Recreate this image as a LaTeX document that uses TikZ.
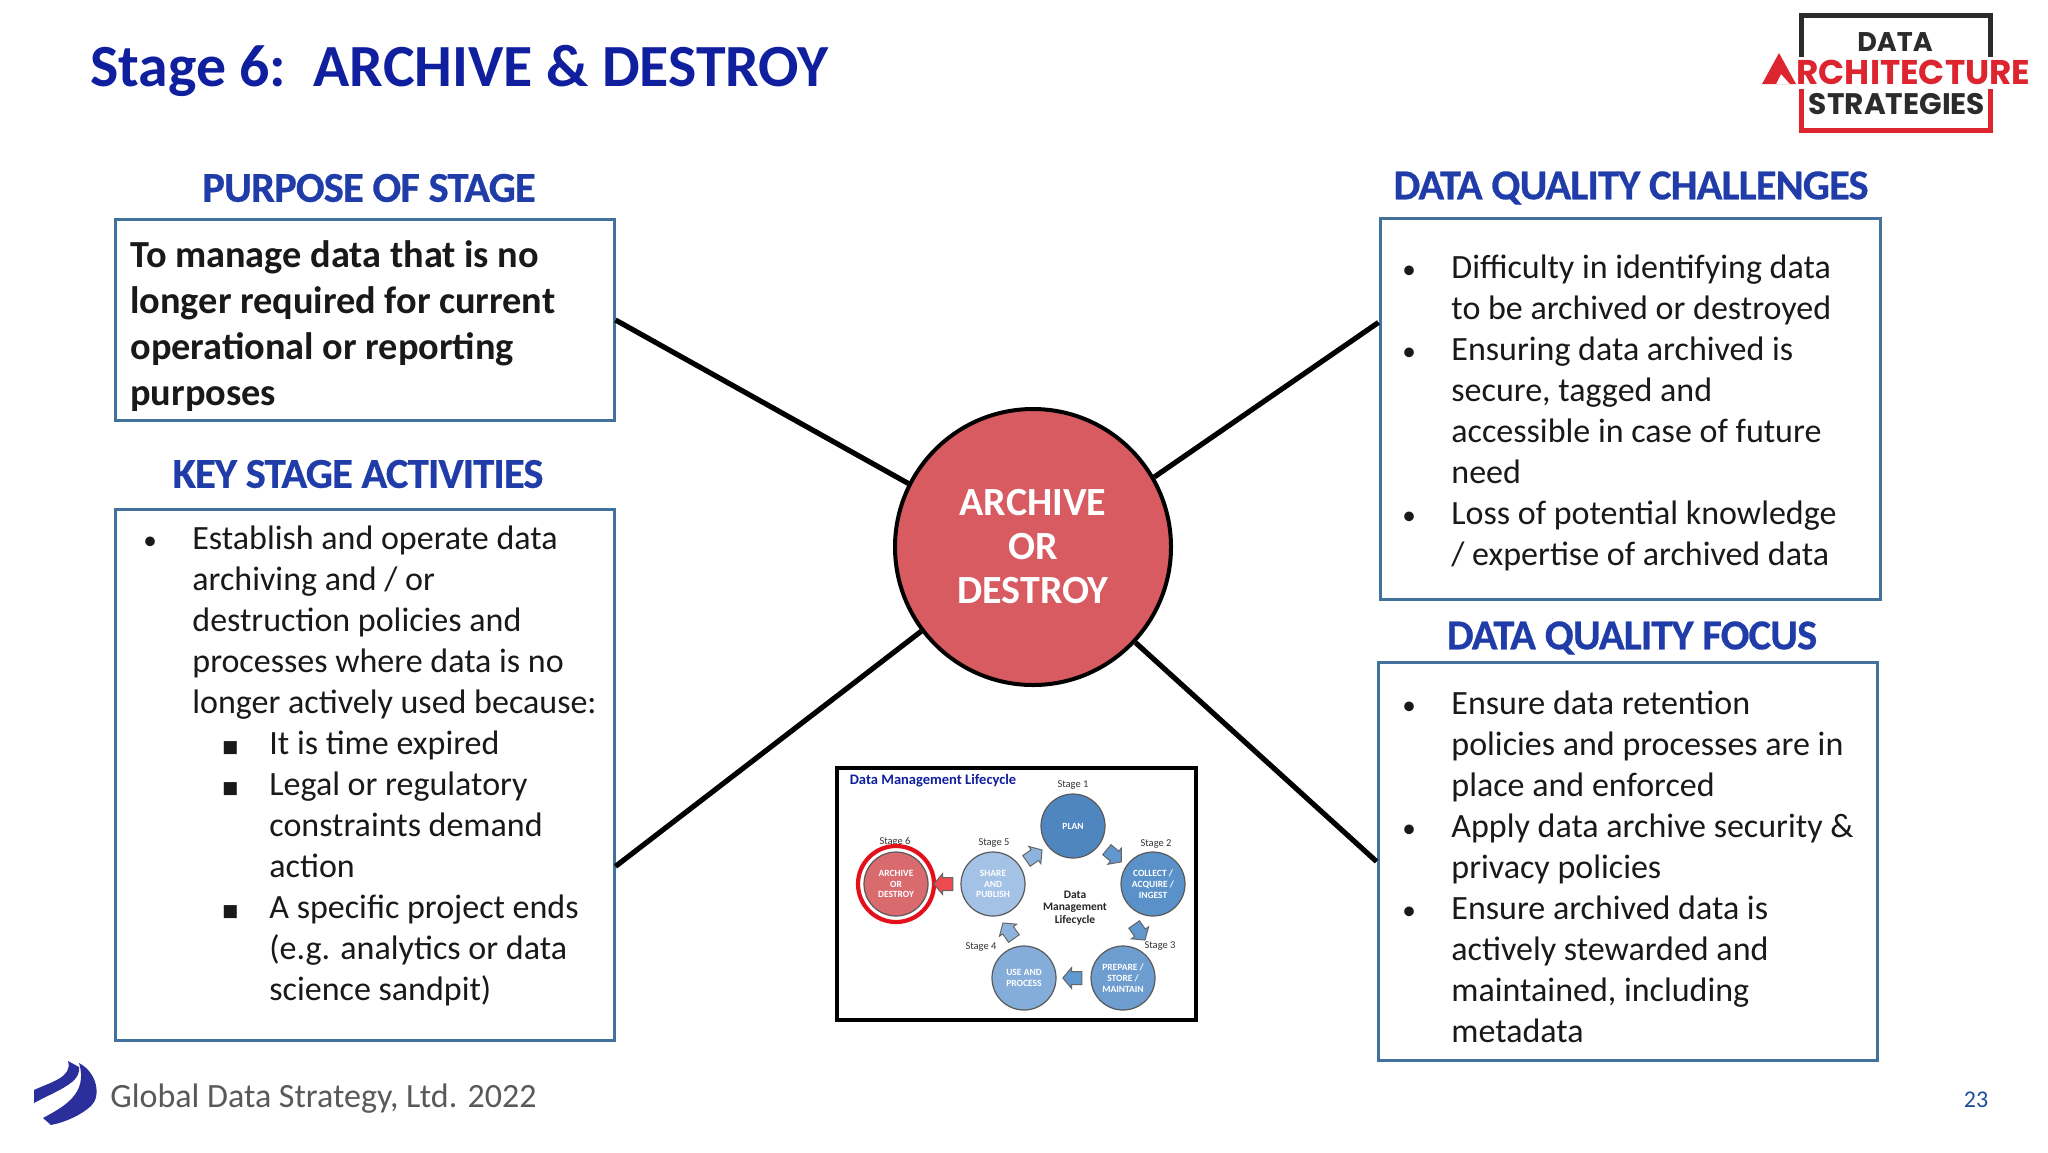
\documentclass[tikz,border=0pt]{standalone}
\usepackage{fontspec}
\usepackage{graphicx}
\setmainfont{Carlito}
\newfontfamily\logofont{Poppins}
\newfontfamily\symfont{DejaVu Sans}
\newfontfamily\headfont[BoldFont=Carlito Bold,BoldFeatures={FakeBold=0.6,LetterSpace=-2}]{Carlito}
\usetikzlibrary{shapes.arrows}
\newcommand{\fpx}[2]{\fontsize{\dimexpr#1pt/2\relax}{\dimexpr#2pt/2\relax}\selectfont}
\newcommand{\bu}{\makebox[24pt][l]{\hspace*{-.5pt}\scalebox{.8}{•}}}
\newcommand{\su}{\hspace*{39pt}\makebox[23.5pt][l]{{\symfont\raisebox{.6pt}{\scalebox{.5}{■}}}}}
\newcommand{\ti}{\hspace*{24pt}}
\newcommand{\si}{\hspace*{62.5pt}}
\definecolor{navy}{HTML}{0F1F9E}
\definecolor{head}{HTML}{1F3CA8}
\definecolor{boxline}{HTML}{41719C}
\definecolor{lred}{HTML}{D75B60}
\definecolor{logored}{HTML}{DD2530}
\definecolor{logodark}{HTML}{2B2B2B}
\definecolor{swoosh}{HTML}{2B2F9B}
\definecolor{footgrey}{HTML}{595959}
\definecolor{pagecol}{HTML}{1F4E9B}
\definecolor{cplan}{HTML}{4F86C0}
\definecolor{ccollect}{HTML}{5B91C9}
\definecolor{cprepare}{HTML}{6E9DD0}
\definecolor{cuse}{HTML}{85ADD9}
\definecolor{cshare}{HTML}{A4C2E6}
\definecolor{carchive}{HTML}{D96A6E}
\definecolor{cring}{HTML}{E3101C}
\definecolor{carrow}{HTML}{5F97CE}
\definecolor{carrowb}{HTML}{8DB4DF}
\definecolor{carrowr}{HTML}{EE4A50}
\tikzset{
  panel/.style={draw=boxline,line width=1.5pt,fill=white,inner sep=0pt,anchor=north west},
  heading/.style={text=head,font=\headfont\bfseries\fpx{42.5}{46},inner sep=0pt},
  body/.style={align=left,inner sep=0pt,anchor=north west,text=black!90,font=\fpx{34}{41}},
  spoke/.style={line width=2.6pt,black},
  mini/.style={circle,draw=black!65,line width=.6pt,minimum size=32pt,inner sep=0pt,text=white,align=center,font=\bfseries\fpx{9.5}{10.7},fill=#1},
  stagel/.style={inner sep=0pt,text=black!80,font=\fpx{10.5}{12}},
  blk/.style={single arrow,draw=black!60,line width=.5pt,fill=#1,inner xsep=0pt,inner ysep=3pt,minimum height=9.5pt,single arrow head extend=2pt,single arrow tip angle=100},
}
\begin{document}
\begin{tikzpicture}[x=0.5pt,y=-0.5pt]
\useasboundingbox (0,0) rectangle (2048,1152);
\fill[white] (0,0) rectangle (2048,1152);

\node[anchor=base west,inner sep=0pt,text=navy,font=\bfseries\fpx{59.8}{64}] (title) at (90,86.5) {Stage 6:\ \ ARCHIVE \& DESTROY};

% logo
\draw[logodark,line width=2.6pt] (1801.5,57) -- (1801.5,15.5) -- (1990.5,15.5) -- (1990.5,57);
\draw[logored,line width=2.6pt] (1801.5,89) -- (1801.5,130.5) -- (1990.5,130.5) -- (1990.5,89);
\node[inner sep=0pt,text=logodark,font=\logofont\bfseries\fpx{27}{30}] (logoa) at (1895,42) {DATA};
\node[anchor=base west,inner sep=0pt,text=logored,font=\logofont\bfseries\fpx{34.3}{36}] (logob) at (1796,84) {RCHITECTURE};
\node[inner sep=0pt,text=logodark,font=\logofont\bfseries\fpx{29.7}{32}] (logoc) at (1897,104) {STRATEGIES};
\fill[logored,even odd rule] (1762,84) -- (1779,53) -- (1796,84) -- cycle (1776,84) -- (1781,74) -- (1790,84) -- cycle;

% panels
\node[panel,minimum width=249.5pt,minimum height=100.5pt] (purpose) at (113.5,218) {};
\node[panel,minimum width=249.5pt,minimum height=265.5pt] (key) at (113.5,508) {};
\node[panel,minimum width=250pt,minimum height=190.5pt] (dqc) at (1378.5,217) {};
\node[panel,minimum width=249.5pt,minimum height=199pt] (focus) at (1376.5,661) {};

\node[heading] (h1) at (369,188) {PURPOSE OF STAGE};
\node[heading] (h2) at (358,474) {KEY STAGE ACTIVITIES};
\node[heading] (h3) at (1631,188) {DATA QUALITY CHALLENGES};
\node[heading] (h4) at (1632,638) {DATA QUALITY FOCUS};

\node[body,font=\bfseries\fpx{38.3}{46.2}] (t1) at (130,240) {To manage data that is no\\longer required for current\\operational or reporting\\purposes};

\node[body] (t2) at (144,525) {\bu Establish and operate data\\
\ti archiving and / or\\
\ti destruction policies and\\
\ti processes where data is no\\
\ti longer actively used because:\\
\su It is time expired\\
\su Legal or regulatory\\
\si constraints demand\\
\si action\\
\su A specific project ends\\
\si (e.g. analytics or data\\
\si science sandpit)};

\node[body] (t3) at (1403,254) {\bu Difficulty in identifying data\\
\ti to be archived or destroyed\\
\bu Ensuring data archived is\\
\ti secure, tagged and\\
\ti accessible in case of future\\
\ti need\\
\bu Loss of potential knowledge\\
\ti / expertise of archived data};

\node[body] (t4) at (1403,690) {\bu Ensure data retention\\
\ti policies and processes are in\\
\ti place and enforced\\
\bu Apply data archive security \&\\
\ti privacy policies\\
\bu Ensure archived data is\\
\ti actively stewarded and\\
\ti maintained, including\\
\ti metadata};

% centre
\node[circle,draw=black,line width=2pt,fill=lred,minimum size=138pt,inner sep=0pt,align=center,text=white,font=\bfseries\fpx{40}{44}] (hub) at (1033,547) {ARCHIVE\\OR\\DESTROY};
\draw[spoke] (purpose.east) -- (hub.153);
\draw[spoke] (dqc.161.5) -- (hub.30.3);
\draw[spoke] (key.-20) -- (hub.217);
\draw[spoke] (focus.west) -- (hub.-43.8);

% inset
\node[draw=black,line width=2pt,fill=white,anchor=north west,minimum width=179.5pt,minimum height=126pt,inner sep=0pt] (inset) at (835,766) {};
\node[inner sep=0pt,text=navy,font=\bfseries\fpx{14.5}{16}] (ititle) at (933,781) {Data Management Lifecycle};
\node[stagel] (s1) at (1073,785) {Stage 1};
\node[stagel] (s2) at (1156,844) {Stage 2};
\node[stagel] (s3) at (1160,946) {Stage 3};
\node[stagel] (s4) at (981,947) {Stage 4};
\node[stagel] (s5) at (994,843) {Stage 5};
\node[stagel] (s6) at (895,842) {Stage 6};
\node[mini=cplan] (plan) at (1073,826) {PLAN};
\node[mini=ccollect] (collect) at (1153,884) {COLLECT /\\ACQUIRE /\\INGEST};
\node[mini=cprepare] (prepare) at (1123,978) {PREPARE /\\STORE /\\MAINTAIN};
\node[mini=cuse] (useproc) at (1024,978) {USE AND\\PROCESS};
\node[mini=cshare] (share) at (993,884) {SHARE\\AND\\PUBLISH};
\node[mini=carchive,minimum size=32pt] (archive) at (896,884) {ARCHIVE\\OR\\DESTROY};
\node[circle,draw=cring,line width=2.1pt,minimum size=38pt,inner sep=0pt] (ring) at (896,884) {};
\node[blk=carrow,rotate=-40] (a1) at (1112,854) {};
\node[blk=carrow,rotate=-55] (a2) at (1138,930) {};
\node[blk=carrow,rotate=180] (a3) at (1075,978) {};
\node[blk=carrowb,rotate=125] (a4) at (1010,933) {};
\node[blk=carrowb,rotate=35] (a5) at (1032,857) {};
\node[blk=carrowr,rotate=180] (a6) at (946,884) {};
\node[inner sep=0pt,align=center,text=black!85,font=\bfseries\fpx{11.5}{12.6}] (clabel) at (1075,908) {Data\\Management\\Lifecycle};

% footer
\fill[swoosh] (34,1090) .. controls (51,1082) and (73,1077) .. (68,1061) -- (79,1067) .. controls (81,1083) and (58,1090) .. (34,1103) -- cycle;
\fill[swoosh] (43,1118) .. controls (61,1108) and (89,1095) .. (79,1063) .. controls (98,1073) and (101,1097) .. (91,1106) .. controls (81,1115) and (66,1122) .. (51,1125) -- cycle;
\node[anchor=base west,inner sep=0pt,text=footgrey,font=\fpx{34}{38}] (foot) at (110,1107) {Global Data Strategy, Ltd. 2022};
\node[inner sep=0pt,text=pagecol,font=\fpx{24}{26}] (pageno) at (1976,1100) {23};
\end{tikzpicture}
\end{document}
